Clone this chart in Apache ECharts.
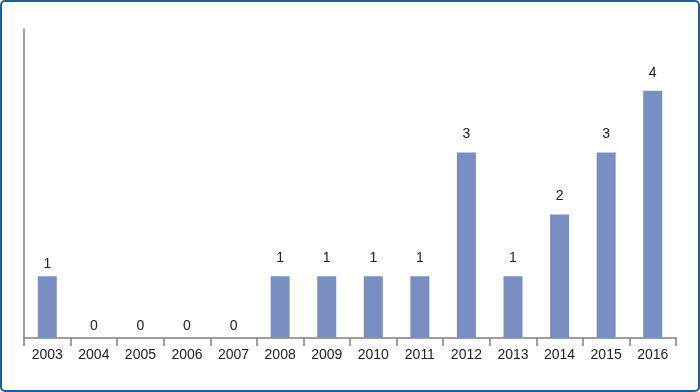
<!DOCTYPE html>
<html>
<head>
<meta charset="utf-8">
<script src="https://cdn.jsdelivr.net/npm/echarts@6/dist/echarts.min.js"></script>
<style>
html,body{margin:0;padding:0;background:#fff;}
#wrap{position:relative;width:700px;height:392px;}
#chart{position:absolute;left:0;top:0;width:700px;height:392px;}
#frame{position:absolute;left:0;top:0;width:700px;height:392px;box-sizing:border-box;border:2px solid #1f5c9e;border-radius:5px;pointer-events:none;}
</style>
</head>
<body>
<div id="wrap"><div id="chart"></div><div id="frame"></div></div>
<script>
var categories = ['2003','2004','2005','2006','2007','2008','2009','2010','2011','2012','2013','2014','2015','2016'];
var values = [1,0,0,0,0,1,1,1,1,3,1,2,3,4];

var fontFam = 'Liberation Sans, Arial, sans-serif';
var seriesData = values.map(function (v, i) {
  if (i === 0 || v === 0) {
    return {value: v, label: {distance: 5}};
  }
  return v;
});

var chart = echarts.init(document.getElementById('chart'));
chart.setOption({
  animation: false,
  grid: {left: 24, right: 24, top: 29, bottom: 54},
  xAxis: {
    type: 'category',
    data: categories,
    axisLine: {show: true, lineStyle: {color: '#808080', width: 1.5}},
    axisTick: {show: true, length: 8, lineStyle: {color: '#808080', width: 1.5}},
    axisLabel: {color: '#222', fontSize: 14, fontFamily: fontFam, margin: 10}
  },
  yAxis: {
    type: 'value',
    min: 0, max: 5,
    axisLine: {show: true, lineStyle: {color: '#808080', width: 1.5}},
    axisTick: {show: false},
    axisLabel: {show: false},
    splitLine: {show: false}
  },
  series: [{
    type: 'bar',
    data: seriesData,
    barWidth: 19,
    itemStyle: {color: '#7a8fc1'},
    label: {show: true, position: 'top', distance: 11, color: '#222', fontSize: 14, fontFamily: fontFam}
  }]
});
</script>
</body>
</html>
